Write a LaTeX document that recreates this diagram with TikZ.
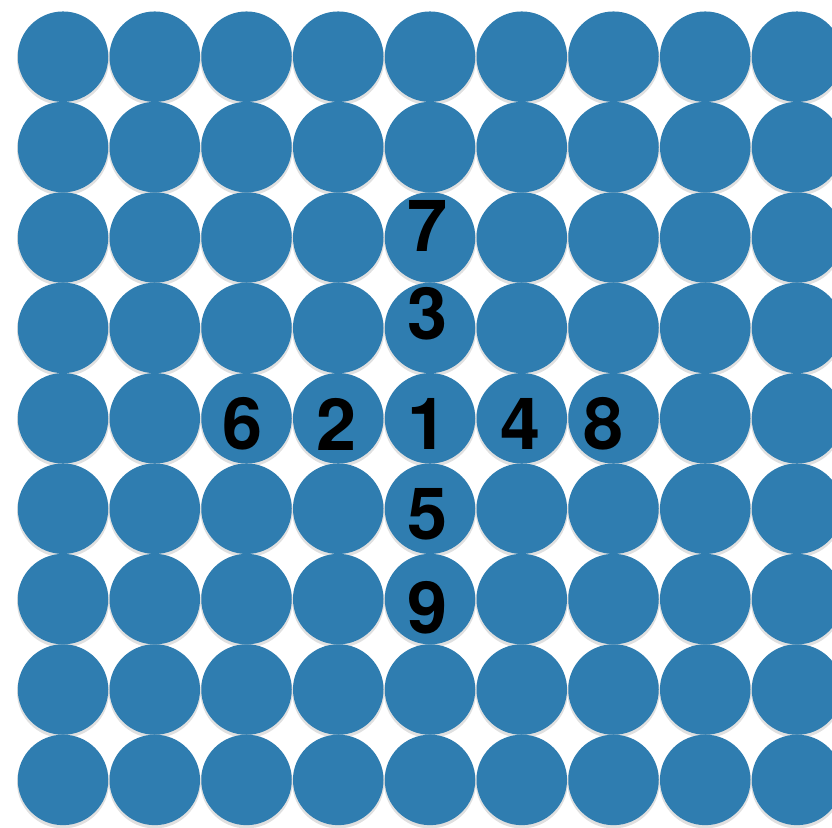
\documentclass[tikz,border=0pt]{standalone}
\usepackage{fontspec}
\setmainfont{TeX Gyre Heros}
\definecolor{dotblue}{RGB}{47,125,176}
\tikzset{
  dot/.style={circle, fill=dotblue, minimum size=90.5pt, inner sep=0pt},
  dotshadow/.style={circle, fill=black, opacity=0.12, minimum size=92pt, inner sep=0pt},
  digit/.style={font=\fontsize{72}{72}\selectfont\bfseries, text=black, inner sep=0pt, anchor=center}
}
\begin{document}
\begin{tikzpicture}[x=1pt,y=-1pt]
\useasboundingbox (0,0) rectangle (832,827);
\fill[white] (0,0) rectangle (832,827);
\foreach \j in {0,...,8}{
  \foreach \i in {0,...,8}{
    \pgfmathsetmacro{\cx}{63+91.75*\i}
    \pgfmathsetmacro{\cy}{56.7+90.4*\j}
    \node[dotshadow] (s-\i-\j) at (\cx,\cy+2.5) {};
    \node[dot] (c-\i-\j) at (\cx,\cy) {};
  }
}
\node[digit] (d7) at (428,226) {7};
\node[digit] (d3) at (428,314) {3};
\node[digit] (d6) at (243,424) {6};
\node[digit] (d2) at (337,424) {2};
\node[digit] (d1) at (428,424) {1};
\node[digit] (d4) at (521,424) {4};
\node[digit] (d8) at (604,424) {8};
\node[digit] (d5) at (428,514) {5};
\node[digit] (d9) at (428,608) {9};
\end{tikzpicture}
\end{document}
